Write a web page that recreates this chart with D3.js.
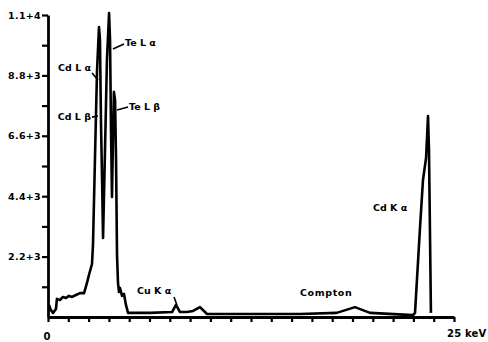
<!DOCTYPE html>
<html>
<head>
<meta charset="utf-8">
<script src="https://cdn.jsdelivr.net/npm/d3@7"></script>
<style>
  body { margin: 0; background: #fff; }
  svg { display: block; }
  text { font-family: "DejaVu Sans", sans-serif; font-weight: bold; fill: #000; }
</style>
</head>
<body>
<svg class="chart"></svg>
<script>
// spectrum: energy (keV) and counts
const energyKeV = [0.06, 0.18, 0.31, 0.49, 0.55, 0.74, 0.92, 1.11, 1.29, 1.48,
  1.72, 1.97, 2.22, 2.40, 2.52, 2.71, 2.77, 2.89, 3.02, 3.14,
  3.20, 3.26, 3.33, 3.39, 3.51, 3.63, 3.76, 3.82, 3.88, 3.94,
  4.00, 4.06, 4.13, 4.19, 4.25, 4.31, 4.37, 4.43, 4.56, 4.68,
  4.80, 4.93, 6.28, 7.64, 7.88, 8.13, 8.56, 8.93, 9.36, 9.79,
  13.05, 15.52, 17.78, 18.90, 19.83, 22.48, 22.60, 22.91, 23.09, 23.28,
  23.40, 23.46, 23.58]
const counts = [440, 250, 150, 290, 660, 620, 730, 690, 770, 730,
  800, 870, 870, 1240, 1530, 1930, 2620, 5720, 9000, 10560,
  10090, 7180, 4990, 2880, 6080, 9360, 11070, 10090, 6810, 4370,
  6450, 8200, 7900, 5720, 2260, 1240, 910, 1060, 770, 840,
  440, 150, 150, 180, 440, 180, 180, 220, 360, 110,
  110, 110, 150, 360, 150, 70, 150, 3280, 4990, 5790,
  7320, 6080, 150]

const yTickValues = [1100, 2200, 3300, 4400, 5500, 6600, 7700, 8800, 9900, 11000]
const yTickLabels = { 2200: '2.2+3', 4400: '4.4+3', 6600: '6.6+3', 8800: '8.8+3', 11000: '1.1+4' }
const xTickValues = d3.range(0, 25.001, 1.25)
const xEndLabels = ['0', '25 keV']

// peak annotations: text anchor point and leader line in data units
const peakNames = ['Cd L α', 'Cd L β', 'Te L α', 'Te L β', 'Cu K α', 'Compton', 'Cd K α']
const peakTextKeV = [2.65, 2.65, 4.74, 4.99, 5.48, 15.52, 20.01]
const peakTextCounts = [9070, 7280, 9980, 7650, 950, 870, 3970]
const peakAnchor = ['end', 'end', 'start', 'start', 'start', 'start', 'start']
const leaderFrom = [[2.71, 8890], [2.71, 7280], [4.00, 9760], [4.25, 7540], [7.76, 730], null, null]
const leaderTo = [[3.08, 8630], [3.08, 7320], [4.68, 9940], [4.93, 7650], [7.94, 440], null, null]

const width = 488
const height = 342

const x = d3.scaleLinear().domain([0, 25]).range([48, 454])
const y = d3.scaleLinear().domain([0, 11000]).range([317, 15])

const chart = d3.select('.chart')
  .attr('width', width)
  .attr('height', height)

const spectrum = energyKeV.map((e, i) => [e, counts[i]])

chart.append('path')
  .datum(spectrum)
  .attr('fill', 'none')
  .attr('stroke', '#000')
  .attr('stroke-width', 2.6)
  .attr('stroke-linejoin', 'round')
  .attr('d', d3.line().x(d => x(d[0])).y(d => y(d[1])))

const yAxis = chart.append('g')
  .attr('transform', `translate(${x(0)},0)`)
  .call(d3.axisLeft(y)
    .tickValues(yTickValues)
    .tickSize(6)
    .tickSizeOuter(0)
    .tickPadding(1)
    .tickFormat(d => yTickLabels[d] || ''))

const xAxis = chart.append('g')
  .attr('transform', `translate(0,${y(0)})`)
  .call(d3.axisBottom(x)
    .tickValues(xTickValues)
    .tickSize(5)
    .tickSizeOuter(0)
    .tickFormat(''))

for (const axis of [yAxis, xAxis]) {
  axis.select('.domain').attr('stroke-width', 2.8)
  axis.selectAll('.tick line').attr('stroke-width', 2.2)
  axis.selectAll('text')
    .attr('font-family', '"DejaVu Sans", sans-serif')
    .attr('font-weight', 'bold')
    .attr('font-size', 9.5)
    .attr('letter-spacing', 0.3)
}

chart.append('text')
  .attr('x', x(0) - 1)
  .attr('y', 340)
  .attr('text-anchor', 'middle')
  .attr('font-size', 10)
  .text(xEndLabels[0])

chart.append('text')
  .attr('x', x(25) - 7)
  .attr('y', 337)
  .attr('font-size', 10)
  .attr('letter-spacing', 0.2)
  .text(xEndLabels[1])

const labels = chart.append('g')
peakNames.forEach((name, i) => {
  labels.append('text')
    .attr('x', x(peakTextKeV[i]))
    .attr('y', y(peakTextCounts[i]))
    .attr('dy', '0.35em')
    .attr('text-anchor', peakAnchor[i])
    .attr('font-size', 9.5)
    .attr('letter-spacing', name === 'Compton' ? 0.6 : 0)
    .text(name)
  if (leaderFrom[i]) {
    labels.append('line')
      .attr('x1', x(leaderFrom[i][0]))
      .attr('y1', y(leaderFrom[i][1]))
      .attr('x2', x(leaderTo[i][0]))
      .attr('y2', y(leaderTo[i][1]))
      .attr('stroke', '#000')
      .attr('stroke-width', 1.6)
  }
})
</script>
</body>
</html>
